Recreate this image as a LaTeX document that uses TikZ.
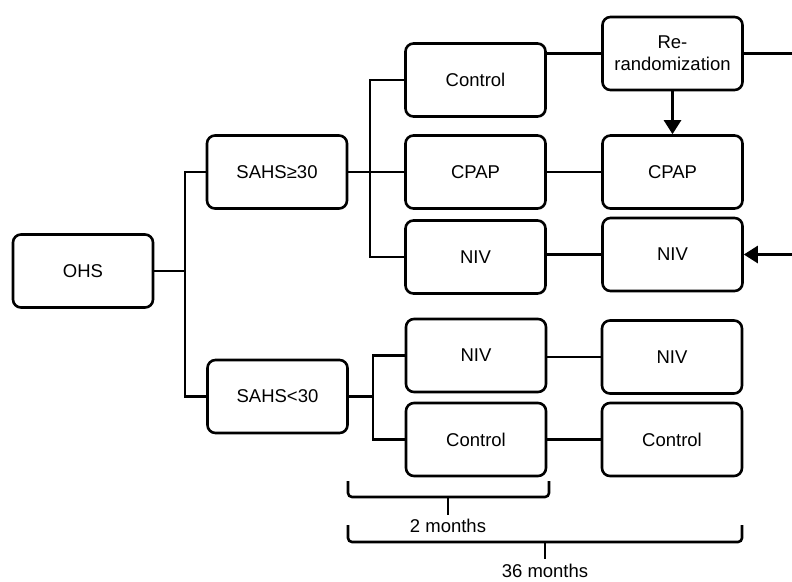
\documentclass[tikz,border=0pt]{standalone}
\usepackage{fontspec}
\setmainfont{Liberation Sans}
\usetikzlibrary{arrows.meta}
\begin{document}
\begin{tikzpicture}[x=1pt,y=-1pt,
  boxnode/.style={draw, line width=2.6pt, rounded corners=8pt, minimum width=140pt, minimum height=73pt, inner sep=0pt, align=center, font=\fontsize{18.5}{22}\selectfont},
  link/.style={draw, line width=2.6pt, line join=miter},
  arr/.style={link, -{Triangle[length=14pt,width=17pt]}},
  bracket/.style={draw, line width=2.6pt, rounded corners=4pt},
  lbl/.style={font=\fontsize{18.5}{22}\selectfont, inner sep=0pt}]
\useasboundingbox (0,0) rectangle (792,581);
% left column
\node[boxnode] (ohs) at (83,271) {OHS};
\node[boxnode] (s1) at (277,172) {SAHS≥30};
\node[boxnode] (s2) at (277.5,396.5) {SAHS<30};
% middle column
\node[boxnode] (ctrl1) at (475.5,80) {Control};
\node[boxnode] (cpap1) at (475.5,172) {CPAP};
\node[boxnode] (niv1) at (475.5,257) {NIV};
\node[boxnode] (niv2) at (476,355.5) {NIV};
\node[boxnode] (ctrl2) at (476,439.5) {Control};
% right column
\node[boxnode] (rr) at (672.5,53.5) {Re-\\randomization};
\node[boxnode] (cpap2) at (672.5,172) {CPAP};
\node[boxnode] (niv3) at (672.5,254.5) {NIV};
\node[boxnode] (niv4) at (672,357) {NIV};
\node[boxnode] (ctrl4) at (672,439.5) {Control};
% junctions and free ends
\coordinate (j0) at (185,271);
\coordinate (j1) at (370,172);
\coordinate (j2) at (373,396.5);
\coordinate (e1) at (792,53.5);
\coordinate (e2) at (792,254.5);
% tree connectors
\path[link] (ohs.east) -- (j0);
\path[link] (s1.west) -| (j0) |- (s2.west);
\path[link] (s1.east) -- (cpap1.west);
\path[link] (ctrl1.west) -| (j1) |- (niv1.west);
\path[link] (s2.east) -- (j2);
\path[link] (niv2.west) -| (j2) |- (ctrl2.west);
% middle to right
\path[link] (rr.west -| ctrl1.east) -- (rr.west);
\path[link] (cpap1.east) -- (cpap2.west);
\path[link] (niv3.west -| niv1.east) -- (niv3.west);
\path[link] (niv4.west -| niv2.east) -- (niv4.west);
\path[link] (ctrl2.east) -- (ctrl4.west);
\path[link] (rr.east) -- (e1);
\path[arr] (e2) -- (niv3.east);
\path[arr] (rr.south) -- (cpap2.north);
% brackets
\coordinate (b1a) at (348,481);
\coordinate (b1b) at (549,481);
\coordinate (b1m) at (448,497);
\coordinate (b1t) at (448,515);
\path[bracket] (b1a) -- (348,497) -- (549,497) -- (b1b);
\path[link] (b1m) -- (b1t);
\node[lbl] (m2) at (448,526) {2 months};
\coordinate (b2a) at (348,525);
\coordinate (b2b) at (742,525);
\coordinate (b2m) at (545,542);
\coordinate (b2t) at (545,559);
\path[bracket] (b2a) -- (348,542) -- (742,542) -- (b2b);
\path[link] (b2m) -- (b2t);
\node[lbl] (m36) at (545,571) {36 months};
\end{tikzpicture}
\end{document}
